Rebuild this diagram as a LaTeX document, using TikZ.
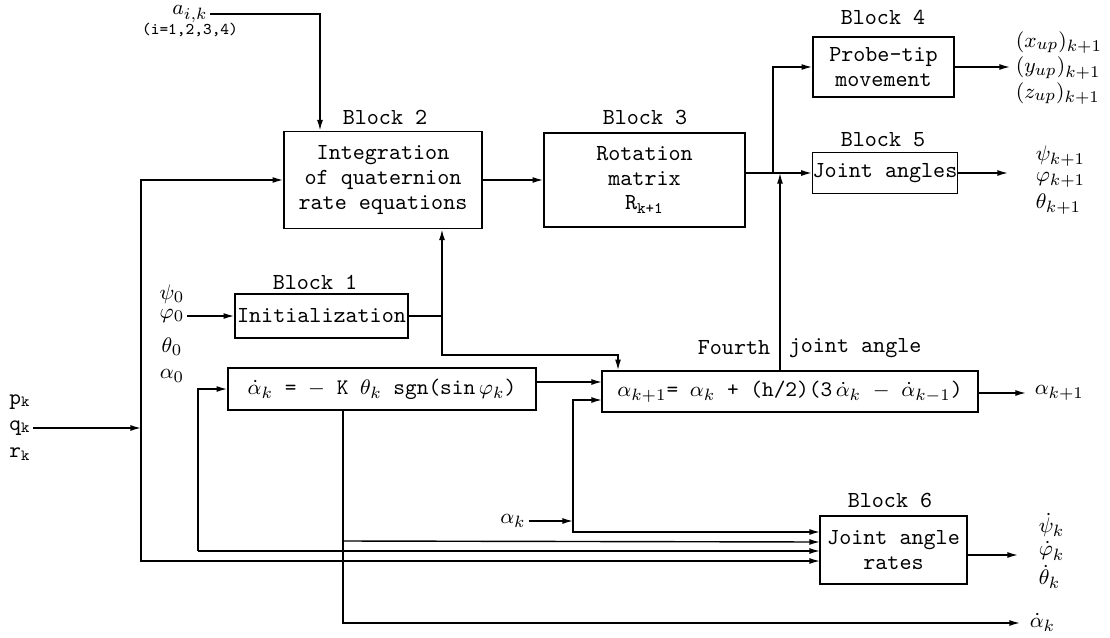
\documentclass[tikz,border=0pt]{standalone}
\usepackage{amsmath,amssymb}
\usepackage{tikz}
\usetikzlibrary{arrows.meta,calc}
\newcommand{\blkfont}{\fontsize{9.8}{10.5}\selectfont\ttfamily}
\newcommand{\eqnfont}{\fontsize{9.5}{10}\selectfont\ttfamily}
\newcommand{\sigfont}{\fontsize{9.5}{10}\selectfont\ttfamily}
\tikzset{
  blk/.style={draw,line width=0.7pt,align=center,font=\blkfont,inner sep=0pt},
  eqn/.style={blk,font=\eqnfont},
  title/.style={font=\blkfont,inner sep=1pt},
  sig/.style={font=\sigfont,inner sep=1pt},
  wire/.style={line width=0.6pt},
  arrow/.style={wire,-{Latex[length=1.6mm,width=0.9mm]}},
}

\begin{document}
\begin{tikzpicture}[x=0.015cm,y=-0.015cm]
\useasboundingbox (0,0) rectangle (1110,637);
% blocks
\node[blk,minimum width=29.7mm,minimum height=14.6mm] (quat) at (383,180) {Integration\\of quaternion\\rate equations};
\node[blk,minimum width=30.15mm,minimum height=14.1mm] (rot) at (644.5,180) {Rotation\\matrix\\R\textsubscript{k+1}};
\node[blk,minimum width=21.15mm,minimum height=9mm] (probe) at (883.5,67) {Probe-tip\\movement};
\node[blk,minimum width=21mm,minimum height=6.15mm] (jang) at (885,173) {Joint angles};
\node[blk,minimum width=25.95mm,minimum height=6.6mm] (init) at (321.5,316) {Initialization};
\node[eqn,minimum width=46.2mm,minimum height=6.3mm] (adot) at (382,389) {$\dot\alpha_k$ = $-$ K $\theta_k$ sgn(sin$\,\varphi_k$)};
\node[eqn,minimum width=56.4mm,minimum height=6.15mm] (fourth) at (790,391.5) {$\alpha_{k+1}$= $\alpha_k$ + (h/2)(3$\,\dot\alpha_k$ $-$ $\dot\alpha_{k-1}$)};
\node[blk,minimum width=22.05mm,minimum height=10.2mm] (rates) at (893.5,550) {Joint angle\\rates};
% block titles
\node[title] (t1) at (315,282) {Block 1};
\node[title] (t2) at (385,117) {Block 2};
\node[title] (t3) at (645,117) {Block 3};
\node[title] (t4) at (883,17) {Block 4};
\node[title] (t5) at (883,140) {Block 5};
\node[title] (t6) at (890,500) {Block 6};
\node[title,anchor=east] (t7a) at (773,348) {Fourth};
\node[title,anchor=west] (t7b) at (786,348) {joint angle};
% inputs
\node[sig] (aik) at (190,14) {$a_{i,k}$};
\node[sig,font=\scriptsize\ttfamily] (aidx) at (190,30) {(i=1,2,3,4)};
\node[sig] (pk) at (20,402) {p\textsubscript{k}};
\node[sig] (qk) at (20,428) {q\textsubscript{k}};
\node[sig] (rk) at (20,454) {r\textsubscript{k}};
\node[sig] (psi0) at (172,294) {$\psi_0$};
\node[sig] (phi0) at (172,316) {$\varphi_0$};
\node[sig] (th0) at (172,347) {$\theta_0$};
\node[sig] (al0) at (172,376) {$\alpha_0$};
\node[sig] (ak) at (513,521) {$\alpha_k$};
% outputs
\node[sig,anchor=west,align=left,font=\fontsize{9.5}{11}\selectfont\ttfamily] (xyz) at (1013,68) {$(x_{up})_{k+1}$\\$(y_{up})_{k+1}$\\$(z_{up})_{k+1}$};
\node[sig,anchor=west] (psik) at (1033,156) {$\psi_{k+1}$};
\node[sig,anchor=west] (phik) at (1033,180) {$\varphi_{k+1}$};
\node[sig,anchor=west] (thk) at (1033,204) {$\theta_{k+1}$};
\node[sig,anchor=west] (alk) at (1032,393) {$\alpha_{k+1}$};
\node[sig,anchor=west] (psid) at (1036,525) {$\dot\psi_k$};
\node[sig,anchor=west] (phid) at (1036,551) {$\dot\varphi_k$};
\node[sig,anchor=west] (thd) at (1036,577) {$\dot\theta_k$};
\node[sig,anchor=west] (ald) at (1027,622) {$\dot\alpha_k$};
% junctions and free ends
\coordinate (xa) at (320,0);
\coordinate (jp) at (141,428);
\coordinate (j3) at (773,173);
\coordinate (x5) at (780,0);
\coordinate (j1) at (442,316);
\coordinate (k4) at (618,355);
\coordinate (in4a) at (602,382);
\coordinate (in4b) at (602,400);
\coordinate (jak) at (573,521);
\coordinate (jd) at (343,541);
\coordinate (jl) at (198,551);
\coordinate (in6a) at (820,532);
\coordinate (in6b) at (820,542);
\coordinate (in6c) at (820,551);
\coordinate (in6d) at (820,561);
\coordinate (xo) at (1010,67);
\coordinate (jo) at (1008,173);
\coordinate (ao) at (1026,393);
\coordinate (ro) at (1018,555);
\coordinate (ado) at (1020,623);
% connectors
\draw[arrow] (aik.east) -| (quat.north -| xa);
\draw[arrow] (qk.east) -- (jp);
\draw[arrow] (jp) |- (quat.west);
\draw[arrow] (jp) |- (in6d);
\draw[arrow] (quat.east) -- (rot.west);
\draw[wire] (rot.east |- j3) -- (j3);
\draw[arrow] (j3) |- (probe.west);
\draw[arrow] (j3) -- (jang.west);
\draw[arrow] (probe.east) -- (xo);
\draw[arrow] (jang.east) -- (jo);
\draw[arrow] (fourth.north -| x5) -- (j3 -| x5);
\draw[arrow] (phi0.east) -- (init.west);
\draw[wire] (init.east) -- (j1);
\draw[arrow] (j1) -- (quat.south -| j1);
\draw[arrow] (j1) |- (k4) -- (fourth.north -| k4);
\draw[arrow] (adot.east |- in4a) -- (in4a);
\draw[arrow] (ak.east) -- (jak);
\draw[arrow] (jak) |- (in4b);
\draw[arrow] (jak) |- (in6a);
\draw[wire] (adot.south -| jd) -- (jd);
\draw[arrow] (jd) -- (in6b);
\draw[arrow] (jd) |- (ado);
\draw[arrow] (jl) |- (adot.west);
\draw[arrow] (jl) -- (in6c);
\draw[arrow] (fourth.east |- ao) -- (ao);
\draw[arrow] (rates.east |- ro) -- (ro);
\end{tikzpicture}
\end{document}
